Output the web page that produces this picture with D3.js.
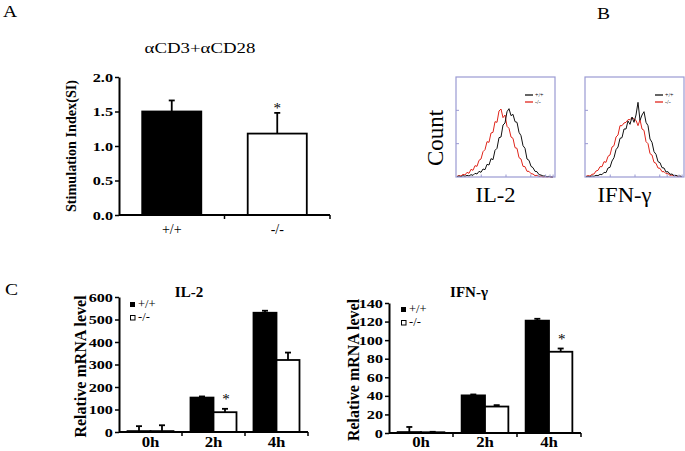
<!DOCTYPE html>
<html><head><meta charset="utf-8">
<script src="https://cdn.jsdelivr.net/npm/d3@7"></script>
<style>body{margin:0;background:#fff}svg{display:block}</style>
</head><body><svg id="c" width="685" height="451"></svg>
<script>
// ---------- data ----------
const genotypes = ["+/+", "-/-"];
const siValues = [1.50, 1.18];
const siErrors = [0.16, 0.30];
const siTicks = [0, 0.5, 1.0, 1.5, 2.0];

const hours = ["0h", "2h", "4h"];
const il2WT = [4, 153, 530];
const il2WTErr = [22, 5, 9];
const il2KO = [4, 88, 320];
const il2KOErr = [26, 15, 33];
const il2Ticks = [0, 100, 200, 300, 400, 500, 600];

const ifnWT = [1, 40.5, 121];
const ifnWTErr = [5.5, 1, 2];
const ifnKO = [0.8, 28.5, 87.5];
const ifnKOErr = [0.5, 1.5, 3.5];
const ifnTicks = [0, 20, 40, 60, 80, 100, 120, 140];

// flow histograms (counts per channel bin)
const il2HistWT = [1,3,1,4,2,5,3,7,5,11,9,17,14,24,22,38,36,55,52,80,86,118,120,156,162,196,205,184,188,166,164,134,124,94,86,54,50,32,28,17,16,7,6,3,3,1,2,0,0];
const il2HistKO = [2,4,3,8,6,14,11,23,20,34,32,50,54,76,82,106,104,132,134,166,164,198,204,178,186,152,146,120,116,88,86,58,54,32,31,17,17,10,9,4,5,1,3,0,1,0,1,0,0];
const ifnHistWT = [1,2,1,3,2,5,4,8,7,14,13,27,29,48,58,82,90,116,118,144,144,168,158,180,164,186,224,170,186,196,164,154,114,104,76,68,46,43,28,27,15,16,8,9,4,5,2,3,1];
const ifnHistKO = [2,4,3,8,9,18,20,31,31,46,44,62,66,90,94,120,126,154,154,162,164,172,172,178,174,170,154,172,144,140,106,100,70,66,44,41,27,26,16,16,10,10,5,6,3,4,1,2,1];

// ---------- helpers ----------
const SERIF = "'Liberation Serif','Times New Roman',serif";
const svg = d3.select("#c");
function label(s, x, y, o) {
  o = Object.assign({size: 14, bold: false, sx: 1, anchor: "middle", rot: false, fill: "#000"}, o || {});
  return svg.append("text")
    .attr("transform", `translate(${x},${y})${o.rot ? " rotate(-90)" : ""} scale(${o.sx},1)`)
    .attr("text-anchor", o.anchor)
    .attr("fill", o.fill)
    .style("font-family", SERIF)
    .style("font-size", o.size + "px")
    .style("font-weight", o.bold ? "bold" : "normal")
    .text(s);
}
function yAxis(scale, x, ticks, fmt) {
  const g = svg.append("g").attr("transform", `translate(${x},0)`)
    .call(d3.axisLeft(scale).tickValues(ticks).tickSizeInner(4).tickSizeOuter(0).tickFormat(fmt));
  g.select(".domain").attr("stroke", "#000").attr("stroke-width", 2);
  g.selectAll(".tick line").attr("stroke", "#000").attr("stroke-width", 1.5);
  g.selectAll(".tick text").attr("x", null)
    .attr("transform", "translate(-6,0) scale(1.3,1)")
    .style("font-family", SERIF).style("font-size", "12.5px").style("font-weight", "bold").attr("fill", "#000");
  return g;
}
function xBaseline(band, y0) {
  const [a, b] = band.range();
  svg.append("line").attr("x1", a).attr("x2", b).attr("y1", y0).attr("y2", y0)
    .attr("stroke", "#000").attr("stroke-width", 2);
  band.domain().forEach(d => {
    const bx = band(d) + band.step();
    svg.append("line").attr("x1", bx).attr("x2", bx).attr("y1", y0).attr("y2", y0 + 4)
      .attr("stroke", "#000").attr("stroke-width", 1.5);
  });
}
function errBar(cx, yTop, yErr) {
  svg.append("line").attr("x1", cx).attr("x2", cx).attr("y1", yTop).attr("y2", yErr)
    .attr("stroke", "#000").attr("stroke-width", 1.8);
  svg.append("line").attr("x1", cx - 3).attr("x2", cx + 3).attr("y1", yErr).attr("y2", yErr)
    .attr("stroke", "#000").attr("stroke-width", 1.8);
}

// ---------- panel A ----------
label("A", 3, 17, {size: 17, anchor: "start", sx: 1.15});
const xA = d3.scaleBand().domain(genotypes).range([119, 330]);
const yA = d3.scaleLinear().domain([0, 2]).range([215, 77]);
genotypes.forEach((g, i) => {
  const bw = xA.bandwidth() * 0.56;
  const bx = xA(g) + (xA.bandwidth() - bw) / 2;
  svg.append("rect").attr("x", bx).attr("y", yA(siValues[i])).attr("width", bw)
    .attr("height", yA(0) - yA(siValues[i]))
    .attr("fill", i === 0 ? "#000" : "#fff").attr("stroke", "#000").attr("stroke-width", 1.8);
  errBar(bx + bw / 2, yA(siValues[i]), yA(siValues[i] + siErrors[i]));
  label(g, xA(g) + xA.bandwidth() / 2, 234, {size: 14});
});
xBaseline(xA, yA(0));
yAxis(yA, 119, siTicks, d3.format(".1f"));
label("αCD3+αCD28", 200, 53, {size: 14.5, sx: 1.3});
label("Stimulation Index(SI)", 76, 146, {size: 14.2, bold: true, rot: true});
label("*", xA("-/-") + xA.bandwidth() / 2, 113, {size: 15});

// ---------- panel B ----------
label("B", 597, 19, {size: 17, anchor: "start", sx: 1.15});
label("Count", 443, 138, {size: 23, rot: true});
function histo(x0, x1, wt, ko, name, lx) {
  const y0 = 177, y1 = 77;
  const xs = d3.scaleLinear().domain([0, wt.length - 1]).range([x0 + 1, x1 - 2]);
  const ys = d3.scaleLinear().domain([0, 300]).range([y0, y1]);
  const xl = d3.scaleLog().domain([1, 1e4]).range([x0, x1]);
  const line = d3.line().x((d, i) => xs(i)).y(d => ys(d));
  svg.append("path").attr("d", line(ko)).attr("fill", "none").attr("stroke", "#e0261c").attr("stroke-width", 1);
  svg.append("path").attr("d", line(wt)).attr("fill", "none").attr("stroke", "#111").attr("stroke-width", 1);
  svg.append("rect").attr("x", x0).attr("y", y1).attr("width", x1 - x0).attr("height", y0 - y1)
    .attr("fill", "none").attr("stroke", "#9a9ad2").attr("stroke-width", 1.2);
  [100, 200].forEach(v => svg.append("line").attr("x1", x0).attr("x2", x0 + 3)
    .attr("y1", ys(v)).attr("y2", ys(v)).attr("stroke", "#9a9ad2"));
  const bx = svg.append("g").attr("transform", `translate(0,${y0})`)
    .call(d3.axisBottom(xl).tickValues([10, 100, 1000, 2000, 4000, 6000, 8000]).tickSize(-2.5).tickFormat(""));
  bx.select(".domain").remove();
  bx.selectAll(".tick line").attr("stroke", "#9a9ad2");
  // legend
  svg.append("line").attr("x1", lx).attr("x2", lx + 8).attr("y1", 95).attr("y2", 95).attr("stroke", "#111").attr("stroke-width", 1.3);
  svg.append("line").attr("x1", lx).attr("x2", lx + 8).attr("y1", 102).attr("y2", 102).attr("stroke", "#e0261c").attr("stroke-width", 1.3);
  label("+/+", lx + 10, 97, {size: 6, anchor: "start"});
  label("-/-", lx + 10, 104, {size: 6, anchor: "start"});
  label(name, (x0 + x1) / 2 - 10, 202, {size: 21.5, sx: 1.05});
}
histo(456, 555, il2HistWT, il2HistKO, "IL-2", 525);
histo(585, 684, ifnHistWT, ifnHistKO, "IFN-γ", 655);

// ---------- panel C ----------
label("C", 5, 295, {size: 17, anchor: "start", sx: 1.15});
function mrna(x0, x1, yTop, yBot, maxV, ticks, wt, wtE, ko, koE, title, titleX, starIdx, legX, legY, ytX) {
  const xg = d3.scaleBand().domain(hours).range([x0, x1]);
  const xs = d3.scaleBand().domain(genotypes)
    .range([xg.bandwidth() * 0.135, xg.bandwidth() * 0.865]);
  const ys = d3.scaleLinear().domain([0, maxV]).range([yBot, yTop]);
  const series = [wt, ko], errs = [wtE, koE];
  hours.forEach((h, i) => {
    genotypes.forEach((g, j) => {
      const bx = xg(h) + xs(g), v = series[j][i];
      svg.append("rect").attr("x", bx).attr("y", ys(v)).attr("width", xs.bandwidth())
        .attr("height", ys(0) - ys(v))
        .attr("fill", j === 0 ? "#000" : "#fff").attr("stroke", "#000").attr("stroke-width", 1.8);
      errBar(bx + xs.bandwidth() / 2, ys(v), ys(v + errs[j][i]));
    });
    label(h, xg(h) + xg.bandwidth() / 2, 447, {size: 14, bold: true, sx: 1.2});
  });
  xBaseline(xg, ys(0));
  yAxis(ys, x0, ticks, d3.format("d"));
  label(title, titleX, 297, {size: 15, bold: true});
  const sh = hours[starIdx];
  label("*", xg(sh) + xs("-/-") + xs.bandwidth() / 2 + 1, ys(ko[starIdx] + koE[starIdx]) - 5, {size: 15});
  // legend
  svg.append("rect").attr("x", legX).attr("y", legY - 5).attr("width", 5).attr("height", 5).attr("fill", "#000");
  svg.append("rect").attr("x", legX + 0.5).attr("y", legY + 8.5).attr("width", 4.5).attr("height", 4.5)
    .attr("fill", "#fff").attr("stroke", "#000").attr("stroke-width", 1);
  label("+/+", legX + 8, legY + 1, {size: 12.5, anchor: "start"});
  label("-/-", legX + 8, legY + 14, {size: 12.5, anchor: "start"});
  label("Relative mRNA level", ytX, (yTop + yBot) / 2 + 2, {size: 16, bold: true, rot: true});
}
mrna(119, 308, 297, 432, 600, il2Ticks, il2WT, il2WTErr, il2KO, il2KOErr, "IL-2", 189, 1, 130, 307, 86);
mrna(389, 581, 303, 433, 140, ifnTicks, ifnWT, ifnWTErr, ifnKO, ifnKOErr, "IFN-γ", 469, 2, 401, 312, 359);
</script></body></html>
